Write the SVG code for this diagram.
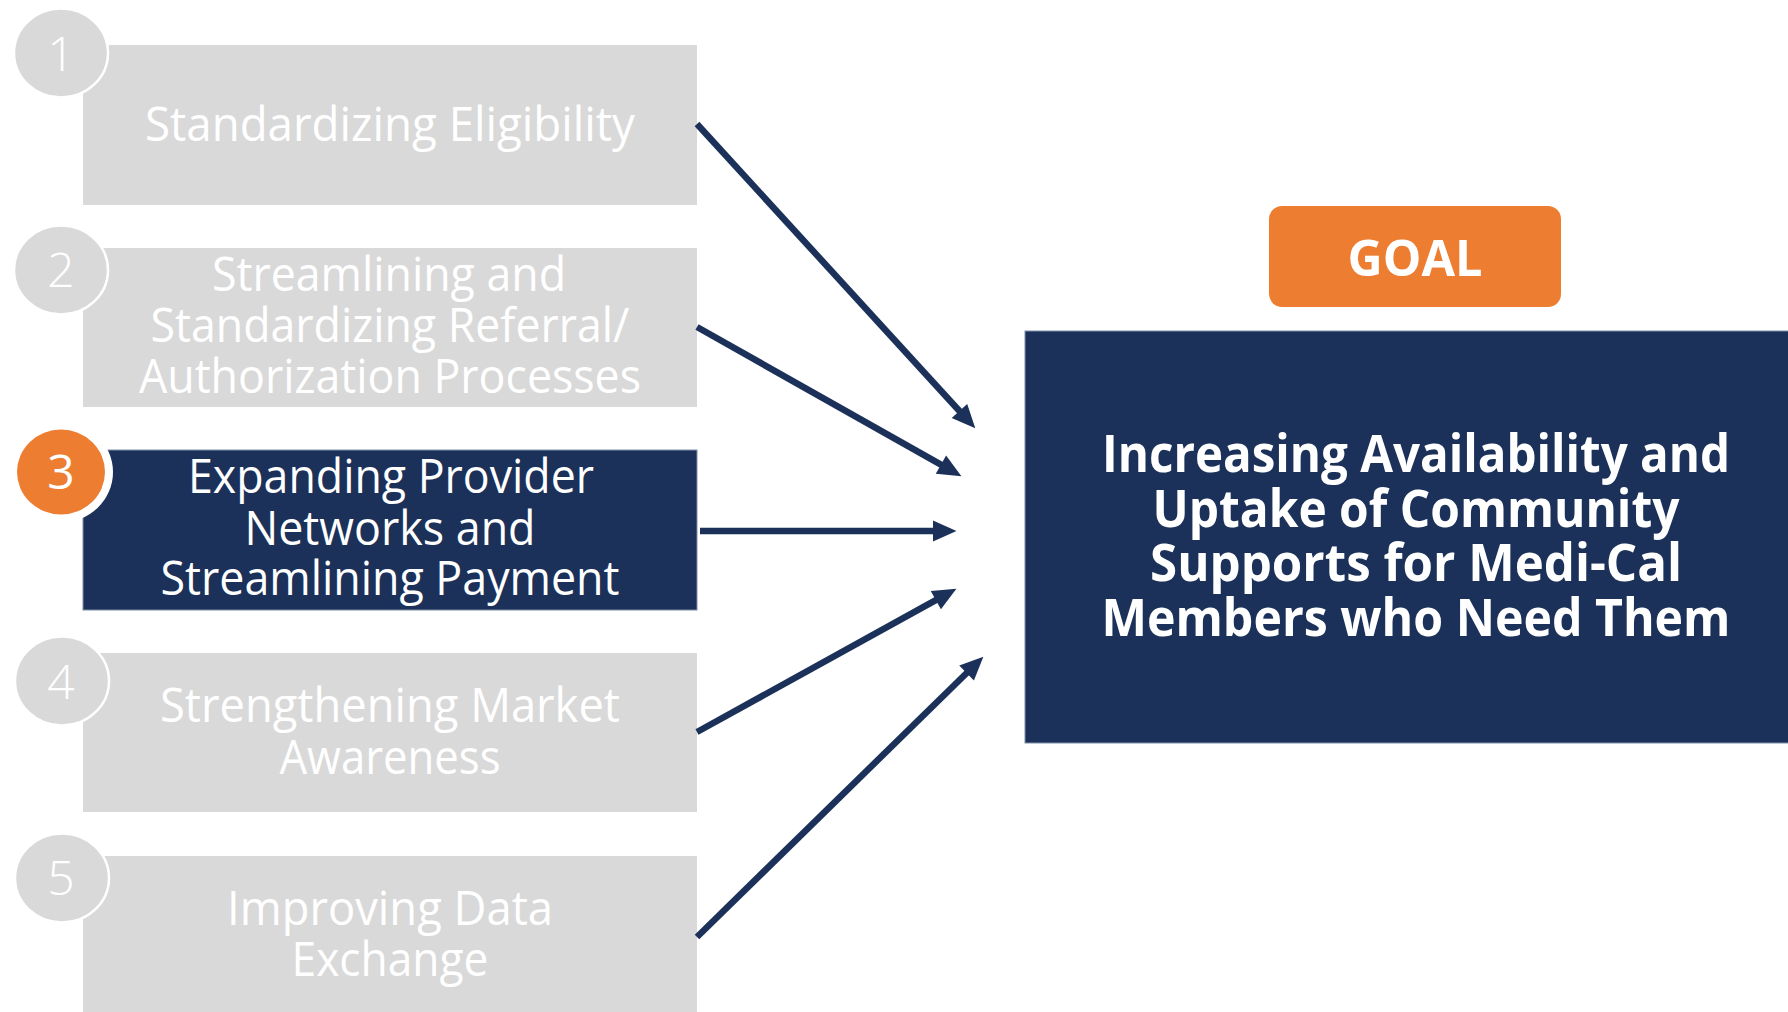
<svg xmlns="http://www.w3.org/2000/svg" width="1788" height="1012" viewBox="0 0 1788 1012">
  <style>
    .box-gray { fill: #D9D9D9; }
    .box-navy { fill: #1B3159; stroke: #7F8FA9; stroke-width: 1; }
    .circ-gray { fill: #D9D9D9; stroke: #FFFFFF; stroke-width: 2.5; }
    .step { font-family: "Open Sans", "Noto Sans", "Liberation Sans", sans-serif; font-size: 48px; fill: #FFFFFF; text-anchor: middle; }
    .num { font-family: "Open Sans", "Noto Sans", "Liberation Sans", sans-serif; font-size: 48px; font-weight: 300; fill: #FFFFFF; text-anchor: middle; }
    .goal { font-family: "Open Sans", "Noto Sans", "Liberation Sans", sans-serif; font-weight: 700; fill: #FFFFFF; text-anchor: middle; }
    .conn { stroke: #1B3159; stroke-width: 6.5; fill: none; }
  </style>
  <defs>
    <marker id="arrow" markerUnits="userSpaceOnUse" viewBox="-3 -11 26 22" markerWidth="26" markerHeight="22" refX="0" refY="0" orient="auto">
      <path d="M-2,-10.5 L21.5,0 L-2,10.5 Z" fill="#1B3159"/>
    </marker>
  </defs>
  <rect width="1788" height="1012" fill="#FFFFFF"/>

  <g id="step1">
    <rect class="box-gray" x="83" y="45" width="614" height="160"/>
    <ellipse class="circ-gray" cx="61" cy="53" rx="47" ry="44.5"/>
    <text class="num" x="61" y="71">1</text>
    <text class="step" x="390" y="141" textLength="490" lengthAdjust="spacingAndGlyphs">Standardizing Eligibility</text>
  </g>

  <g id="step2">
    <rect class="box-gray" x="83" y="248" width="614" height="159"/>
    <ellipse class="circ-gray" cx="61" cy="270" rx="47" ry="44.5"/>
    <text class="num" x="61" y="287">2</text>
    <text class="step" x="389" y="291" textLength="354" lengthAdjust="spacingAndGlyphs">Streamlining and</text>
    <text class="step" x="390" y="342" textLength="479" lengthAdjust="spacingAndGlyphs">Standardizing Referral/</text>
    <text class="step" x="390" y="393" textLength="502" lengthAdjust="spacingAndGlyphs">Authorization Processes</text>
  </g>

  <g id="step3">
    <rect class="box-navy" x="83" y="450" width="614" height="160"/>
    <ellipse cx="61" cy="472" rx="52" ry="50.5" fill="#FFFFFF"/>
    <ellipse cx="61" cy="472" rx="44" ry="42.5" fill="#ED7D31"/>
    <text class="num" x="61" y="489" style="font-weight:400">3</text>
    <text class="step" x="391" y="493" textLength="406" lengthAdjust="spacingAndGlyphs">Expanding Provider</text>
    <text class="step" x="390" y="545" textLength="291" lengthAdjust="spacingAndGlyphs">Networks and</text>
    <text class="step" x="390" y="595" textLength="459" lengthAdjust="spacingAndGlyphs">Streamlining Payment</text>
  </g>

  <g id="step4">
    <rect class="box-gray" x="83" y="653" width="614" height="159"/>
    <ellipse class="circ-gray" cx="62" cy="681" rx="47" ry="44.5"/>
    <text class="num" x="61" y="699">4</text>
    <text class="step" x="390" y="722" textLength="460" lengthAdjust="spacingAndGlyphs">Strengthening Market</text>
    <text class="step" x="390" y="774" textLength="221" lengthAdjust="spacingAndGlyphs">Awareness</text>
  </g>

  <g id="step5">
    <rect class="box-gray" x="83" y="856" width="614" height="160"/>
    <ellipse class="circ-gray" cx="62" cy="878" rx="47" ry="44.5"/>
    <text class="num" x="61" y="895">5</text>
    <text class="step" x="390" y="925" textLength="326" lengthAdjust="spacingAndGlyphs">Improving Data</text>
    <text class="step" x="390" y="976" textLength="197" lengthAdjust="spacingAndGlyphs">Exchange</text>
  </g>

  <g id="goal-label">
    <rect x="1269" y="206" width="292" height="101" rx="13" ry="13" fill="#ED7D31"/>
    <text class="goal" x="1415" y="276" font-size="50" textLength="135" lengthAdjust="spacingAndGlyphs">GOAL</text>
  </g>

  <g id="goal">
    <rect x="1025" y="331" width="770" height="412" fill="#1B3159" stroke="#7F8FA9" stroke-width="1"/>
    <text class="goal" x="1416" y="472" font-size="52" textLength="628" lengthAdjust="spacingAndGlyphs">Increasing Availability and</text>
    <text class="goal" x="1416" y="527" font-size="52" textLength="527" lengthAdjust="spacingAndGlyphs">Uptake of Community</text>
    <text class="goal" x="1416" y="581" font-size="52" textLength="532" lengthAdjust="spacingAndGlyphs">Supports for Medi-Cal</text>
    <text class="goal" x="1416" y="636" font-size="52" textLength="629" lengthAdjust="spacingAndGlyphs">Members who Need Them</text>
  </g>

  <g id="connectors">
    <line class="conn" x1="697" y1="124" x2="960.8" y2="412.5" marker-end="url(#arrow)"/>
    <line class="conn" x1="697" y1="327" x2="942.7" y2="465.7" marker-end="url(#arrow)"/>
    <line class="conn" x1="700" y1="531" x2="935" y2="531" marker-end="url(#arrow)"/>
    <line class="conn" x1="697" y1="732" x2="937.6" y2="599.2" marker-end="url(#arrow)"/>
    <line class="conn" x1="697" y1="937" x2="968" y2="671.7" marker-end="url(#arrow)"/>
  </g>
</svg>
